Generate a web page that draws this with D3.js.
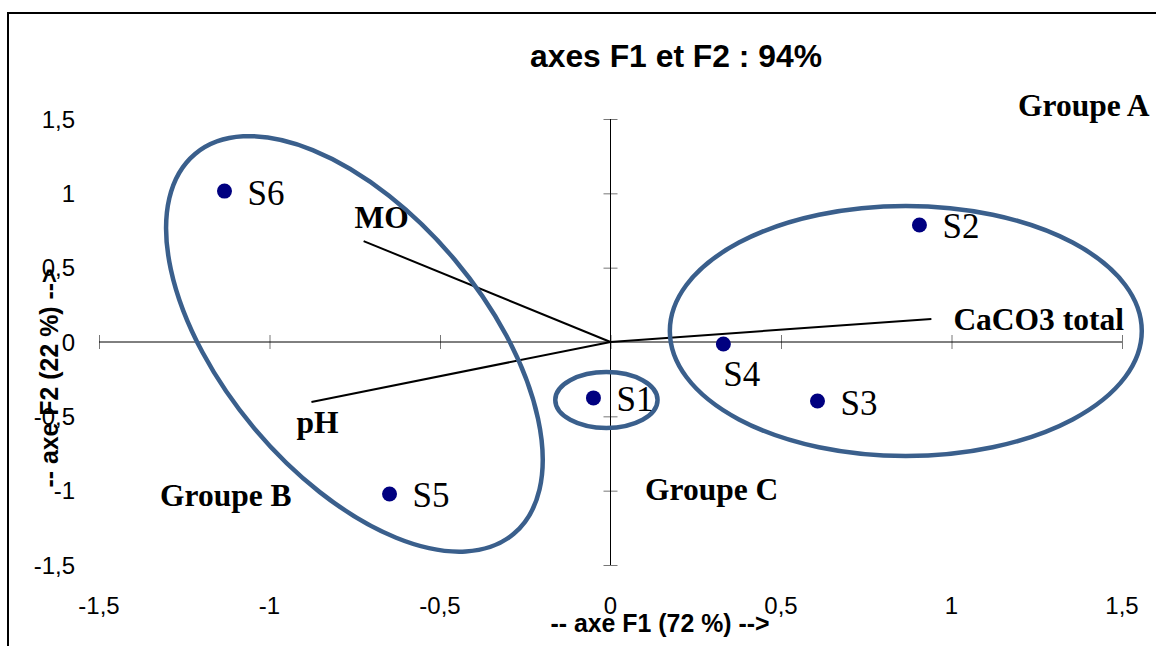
<!DOCTYPE html>
<html><head><meta charset="utf-8">
<script src="https://cdn.jsdelivr.net/npm/d3@7"></script>
<style>html,body{margin:0;padding:0;background:#fff;overflow:hidden}</style>
</head><body><svg id="c" width="1156" height="646"></svg>
<script>
// ---- data ----
const title = "axes F1 et F2 : 94%";
const xTitle = "-- axe F1 (72 %) -->";
const yTitle = "-- axe F2 (22 %) -->";
const sampleNames = ["S1", "S2", "S3", "S4", "S5", "S6"];
const sampleF1 = [-0.050, 0.906, 0.607, 0.331, -0.648, -1.132];
const sampleF2 = [-0.376, 0.787, -0.397, -0.013, -1.022, 1.015];
const varNames = ["CaCO3 total", "MO", "pH"];
const varF1 = [0.941, -0.724, -0.877];
const varF2 = [0.155, 0.679, -0.403];
const tickValues = [-1.5, -1, -0.5, 0, 0.5, 1, 1.5];
const tickLabels = ["-1,5", "-1", "-0,5", "0", "0,5", "1", "1,5"];
const groupNames = ["Groupe A", "Groupe B", "Groupe C"];
// group ellipses (centre and half-axes in data units, tilt in degrees)
const groupCX = [0.866, -0.751, -0.012];
const groupCY = [0.074, -0.013, -0.390];
const groupRX = [0.692, 0.727, 0.150];
const groupRY = [0.841, 0.881, 0.188];
const groupTilt = [0, 50, 0];

// ---- layout ----
const svg = d3.select("#c");
const W = 1156, H = 646;
svg.append("rect").attr("width", W).attr("height", H).attr("fill", "#fff");
svg.append("rect").attr("x", 8).attr("y", 13).attr("width", 1170).attr("height", 660)
  .attr("fill", "none").attr("stroke", "#000").attr("stroke-width", 2);

const x = d3.scaleLinear().domain([-1.5, 1.5]).range([99, 1122]);
const y = d3.scaleLinear().domain([-1.5, 1.5]).range([565, 119]);
const ux = x(1) - x(0), uy = y(0) - y(1);

const serif = "'Liberation Serif','Times New Roman',serif";
const sans = "'Liberation Sans',Arial,sans-serif";

// title
svg.append("text").attr("x", 676).attr("y", 67).attr("text-anchor", "middle")
  .attr("font-family", sans).attr("font-weight", "bold").attr("font-size", 31.5)
  .attr("textLength", 292).attr("lengthAdjust", "spacingAndGlyphs").text(title);

// axes through origin
const xAxis = d3.axisBottom(x).tickValues(tickValues).tickSize(14).tickFormat("");
const gx = svg.append("g").attr("transform", `translate(0,${y(0) - 7})`).call(xAxis);
gx.select(".domain").remove();
gx.selectAll(".tick line").attr("stroke", "#777");
svg.append("line").attr("x1", x(-1.5)).attr("x2", x(1.5)).attr("y1", y(0)).attr("y2", y(0))
  .attr("stroke", "#000").attr("stroke-width", 1);

const yAxis = d3.axisLeft(y).tickValues(tickValues).tickSize(14).tickFormat("");
const gy = svg.append("g").attr("transform", `translate(${x(0) + 7},0)`).call(yAxis);
gy.select(".domain").remove();
gy.selectAll(".tick line").attr("stroke", "#777");
svg.append("line").attr("x1", x(0)).attr("x2", x(0)).attr("y1", y(-1.5)).attr("y2", y(1.5))
  .attr("stroke", "#000").attr("stroke-width", 1);

// tick labels
svg.append("g").selectAll("text").data(tickValues).join("text")
  .attr("x", d => x(d)).attr("y", 614).attr("text-anchor", "middle")
  .attr("font-family", sans).attr("font-size", 24)
  .text((d, i) => tickLabels[i]);
svg.append("g").selectAll("text").data(tickValues).join("text")
  .attr("x", 75).attr("y", d => y(d) + 8.5).attr("text-anchor", "end")
  .attr("font-family", sans).attr("font-size", 24)
  .text((d, i) => tickLabels[i]);

// axis titles
svg.append("text").attr("x", 660).attr("y", 632).attr("text-anchor", "middle")
  .attr("font-family", sans).attr("font-weight", "bold").attr("font-size", 25)
  .attr("textLength", 219).attr("lengthAdjust", "spacingAndGlyphs").text(xTitle);
svg.append("text").attr("transform", "translate(58,378) rotate(-90)").attr("text-anchor", "middle")
  .attr("font-family", sans).attr("font-weight", "bold").attr("font-size", 25)
  .attr("textLength", 219).attr("lengthAdjust", "spacingAndGlyphs").text(yTitle);

// variable vectors
const vars = varNames.map((n, i) => ({ n, f1: varF1[i], f2: varF2[i] }));
svg.append("g").selectAll("line").data(vars).join("line")
  .attr("x1", x(0)).attr("y1", y(0)).attr("x2", d => x(d.f1)).attr("y2", d => y(d.f2))
  .attr("stroke", "#000").attr("stroke-width", 2);
const varOff = { "CaCO3 total": [22, 11], "MO": [-9, -13], "pH": [-15, 31] };
svg.append("g").selectAll("text").data(vars).join("text")
  .attr("x", d => x(d.f1) + varOff[d.n][0]).attr("y", d => y(d.f2) + varOff[d.n][1])
  .attr("font-family", serif).attr("font-weight", "bold").attr("font-size", 31.5)
  .text(d => d.n);

// group ellipses
const groups = groupNames.map((n, i) => ({ n, cx: groupCX[i], cy: groupCY[i], rx: groupRX[i], ry: groupRY[i], t: groupTilt[i] }));
svg.append("g").selectAll("ellipse").data(groups).join("ellipse")
  .attr("transform", d => `translate(${x(d.cx)},${y(d.cy)}) rotate(${d.t})`)
  .attr("rx", d => d.rx * ux).attr("ry", d => d.ry * uy)
  .attr("fill", "none").attr("stroke", "#3A5F8C").attr("stroke-width", 4.5);

// group labels
const groupLabelPos = { "Groupe A": [1018, 116], "Groupe B": [160, 506], "Groupe C": [645, 500] };
svg.append("g").selectAll("text").data(groups).join("text")
  .attr("x", d => groupLabelPos[d.n][0]).attr("y", d => groupLabelPos[d.n][1])
  .attr("font-family", serif).attr("font-weight", "bold").attr("font-size", 31.5)
  .text(d => d.n);

// samples
const samples = sampleNames.map((n, i) => ({ n, f1: sampleF1[i], f2: sampleF2[i] }));
svg.append("g").selectAll("circle").data(samples).join("circle")
  .attr("cx", d => x(d.f1)).attr("cy", d => y(d.f2)).attr("r", 7.5).attr("fill", "#000080");
const sOff = { "S4": [0, 42] };
svg.append("g").selectAll("text").data(samples).join("text")
  .attr("x", d => x(d.f1) + (sOff[d.n] ? sOff[d.n][0] : 23))
  .attr("y", d => y(d.f2) + (sOff[d.n] ? sOff[d.n][1] : 13.5))
  .attr("font-family", serif).attr("font-size", 35)
  .text(d => d.n);
</script></body></html>
